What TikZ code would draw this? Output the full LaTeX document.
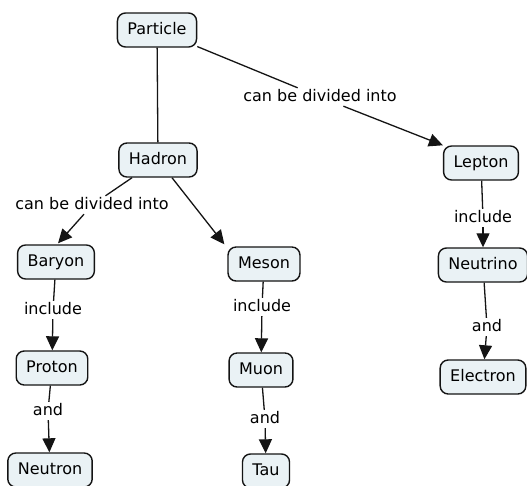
\documentclass[tikz,border=0pt]{standalone}
\usepackage{fontspec}
\setmainfont{DejaVu Sans}
\usetikzlibrary{arrows.meta,calc}
\definecolor{cfill}{RGB}{234,242,245}
\definecolor{cline}{RGB}{20,20,20}
\begin{document}
\begin{tikzpicture}[x=1pt,y=-1pt,
 concept/.style={draw=cline, line width=1.4pt, fill=cfill, rounded corners=8pt, minimum height=34pt, inner xsep=10pt, text height=12pt, text depth=3pt, font=\fontsize{16}{19}\selectfont},
 link/.style={inner sep=1.5pt, text height=12pt, text depth=3pt, font=\fontsize{16}{19}\selectfont},
 conn/.style={draw=cline, line width=1.3pt},
 arr/.style={conn, -{Triangle[length=14pt,width=13pt]}}]
\useasboundingbox (0,0) rectangle (527,485);
\fill[white] (0,0) rectangle (527,485);
% concepts
\node[concept] (particle) at (157,30) {Particle};
\node[concept] (hadron) at (158,160) {Hadron};
\node[concept] (lepton) at (481,163) {Lepton};
\node[concept] (neutrino) at (483,265) {Neutrino};
\node[concept] (electron) at (483,377) {Electron};
\node[concept] (baryon) at (56,262) {Baryon};
\node[concept] (meson) at (264,264) {Meson};
\node[concept] (proton) at (52,368) {Proton};
\node[concept] (muon) at (261,370) {Muon};
\node[concept] (neutron) at (50,470) {Neutron};
\node[concept] (tau) at (266,471) {Tau};
% linking phrases
\node[link] (lab1) at (320,97) {can be divided into};
\node[link] (lab2) at (92,205) {can be divided into};
\node[link] (inc1) at (53,310) {include};
\node[link] (inc2) at (262,307) {include};
\node[link] (and1) at (48,411) {and};
\node[link] (and2) at (265,419) {and};
\node[link] (inc3) at (483,218) {include};
\node[link] (and3) at (487,327) {and};
% connectors
\draw[conn] (particle) -- (hadron);
\draw[conn] (particle) -- (lab1);
\draw[arr] (lab1) -- (lepton.north west);
\draw[conn] (hadron) -- (lab2);
\draw[arr] ($(lab2.south)+(-8,0)$) -- ($(baryon.north)+(2,-1)$);
\draw[arr] ($(hadron.south)+(14,0)$) -- ($(meson.north west)+(-3,-2)$);
\draw[conn] (baryon) -- (inc1);
\draw[arr] (inc1) -- (proton);
\draw[conn] (meson) -- (inc2);
\draw[arr] (inc2) -- (muon);
\draw[conn] (proton) -- (and1);
\draw[arr] (and1) -- (neutron);
\draw[conn] (muon) -- (and2);
\draw[arr] (and2) -- (tau);
\draw[conn] (lepton) -- (inc3);
\draw[arr] (inc3) -- (neutrino);
\draw[conn] (neutrino) -- (and3);
\draw[arr] (and3) -- (electron);
\end{tikzpicture}
\end{document}
